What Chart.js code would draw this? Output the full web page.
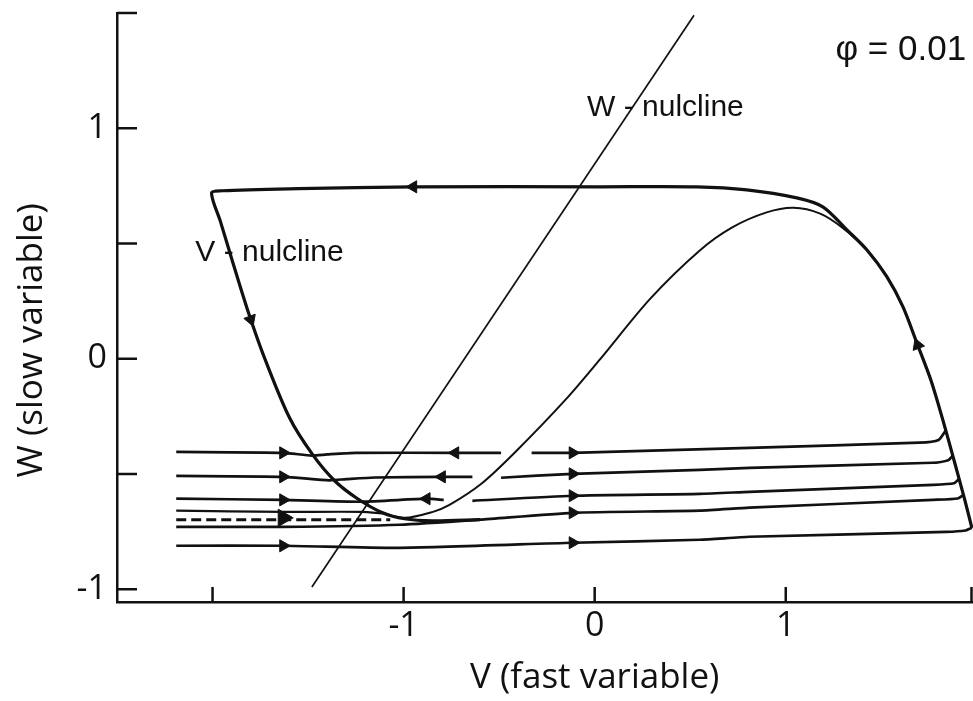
<!doctype html>
<html lang="en">
  <head>
    <meta charset="utf-8">
    <title>Phase plane, phi = 0.01</title>
    <style>
      * {
        margin: 0;
        padding: 0;
      }
      body {
        background: #fff;
      }
      .chartBox {
        width: 973px;
        height: 701px;
        position: relative;
      }
    </style>
  </head>
  <body>
    <div class="chartBox">
      <canvas id="myChart"></canvas>
    </div>
    <script src="https://cdn.jsdelivr.net/npm/chart.js"></script>
    <script>
    // setup
    // W-nullcline (straight line)
    const wNullV = [-1.48, 0.52];
    const wNullW = [-0.99, 1.49];

    // V-nullcline (cubic)
    const vNullV = [-1.895, -1.817, -1.728, -1.597, -1.476, -1.361, -1.241, -1.11, -0.995, -0.85, -0.76, -0.59, -0.41, -0.15, 0.03, 0.29, 0.55, 0.72, 0.90, 1.04, 1.18, 1.298, 1.424, 1.529, 1.613, 1.686, 1.759, 1.822, 1.88, 1.937, 1.974];
    const vNullW = [0.421, 0.213, 0.004, -0.256, -0.416, -0.529, -0.607, -0.668, -0.69, -0.665, -0.634, -0.54, -0.40, -0.175, 0.00, 0.26, 0.47, 0.57, 0.635, 0.655, 0.63, 0.568, 0.473, 0.356, 0.226, 0.069, -0.091, -0.265, -0.438, -0.612, -0.733];

    // limit cycle: right branch up, jump left along the top, down the left branch, out along the bottom
    const cycleV = [1.974, 1.937, 1.88, 1.822, 1.759, 1.686, 1.613, 1.529, 1.424, 1.319, 1.194, 1.058, 0.796, 0.534, 0.03, -0.95, -1.55, -1.95, -2.005, -1.958, -1.895, -1.817, -1.728, -1.597, -1.476, -1.361, -1.241, -1.11, -0.995, -0.85, -0.60];
    const cycleW = [-0.733, -0.612, -0.438, -0.265, -0.091, 0.069, 0.226, 0.356, 0.473, 0.56, 0.659, 0.698, 0.733, 0.746, 0.746, 0.746, 0.738, 0.729, 0.72, 0.594, 0.421, 0.213, 0.004, -0.256, -0.416, -0.529, -0.607, -0.668, -0.694, -0.703, -0.698];

    // trajectories started at the left edge and between the branches
    const row1aV = [-2.19, -1.63, -1.48, -1.40, -1.25, -0.73, -0.49];
    const row1aW = [-0.404, -0.408, -0.42, -0.415, -0.408, -0.408, -0.408];
    const row1bV = [-0.33, -0.115, 0.81, 1.70, 1.80, 1.838];
    const row1bW = [-0.408, -0.408, -0.386, -0.364, -0.352, -0.31];

    const row2aV = [-2.19, -1.63, -1.39, -1.30, -1.15, -0.80, -0.64];
    const row2aW = [-0.508, -0.512, -0.527, -0.522, -0.515, -0.512, -0.512];
    const row2bV = [-0.49, -0.115, 0.55, 0.81, 1.77, 1.85, 1.874];
    const row2bW = [-0.516, -0.499, -0.482, -0.473, -0.451, -0.44, -0.42];

    const row3aV = [-2.19, -1.63, -1.22, -0.88, -0.79];
    const row3aW = [-0.607, -0.612, -0.62, -0.607, -0.612];
    const row3bV = [-0.64, -0.115, 0.55, 0.81, 1.77, 1.88, 1.908];
    const row3bW = [-0.616, -0.594, -0.586, -0.577, -0.547, -0.54, -0.52];

    const row4aV = [-2.19, -1.63, -1.22, -1.10];
    const row4aW = [-0.659, -0.664, -0.664, -0.672];
    const row4dashV = [-2.19, -1.07];
    const row4dashW = [-0.698, -0.698];
    const row4bV = [-2.19, -1.63, -1.02, -0.60, -0.115, 0.55, 0.81, 1.77, 1.90, 1.93];
    const row4bW = [-0.729, -0.729, -0.72, -0.698, -0.668, -0.659, -0.646, -0.612, -0.606, -0.59];

    const row5V = [-2.19, -1.63, -1.02, -0.115, 0.55, 0.81, 1.84, 1.94, 1.974];
    const row5W = [-0.811, -0.811, -0.82, -0.798, -0.785, -0.772, -0.751, -0.745, -0.733];

    // arrowheads showing the direction of flow
    const rightArrowV = [-1.63, -1.63, -1.63, -1.63, -0.115, -0.115, -0.115, -0.115, -0.115];
    const rightArrowW = [-0.408, -0.512, -0.612, -0.811, -0.408, -0.499, -0.594, -0.668, -0.798];
    const bigArrowV = [-1.63];
    const bigArrowW = [-0.69];
    const leftArrowV = [-0.73, -0.80, -0.88, -0.95];
    const leftArrowW = [-0.408, -0.512, -0.607, 0.746];
    const downArrowV = [-1.80];
    const downArrowW = [0.17];
    const upArrowV = [1.69];
    const upArrowW = [0.06];

    // axes
    const xTickLabels = [-1, 0, 1];
    const yTickLabels = [-1, 0, 1];
    const xTickMarks = [-2, -1, 0, 1, 2];
    const yTickMarks = [-1, -0.5, 0, 0.5, 1, 1.5];
    const xTitle = 'V (fast variable)';
    const yTitle = 'W (slow variable)';

    // text notes on the plot
    const noteText = ['W - nulcline', 'V - nulcline', 'φ = 0.01'];
    const noteV = [-0.04, -2.09, 1.26];
    const noteW = [1.09, 0.46, 1.34];

    const ink = '#111';
    const pts = (xs, ys) => xs.map((x, i) => ({ x, y: ys[i] }));

    const curve = (xs, ys, width, extra) => Object.assign({
      data: pts(xs, ys),
      showLine: true,
      borderColor: ink,
      borderWidth: width,
      pointRadius: 0,
      tension: 0.3,
      fill: false
    }, extra || {});

    const arrows = (xs, ys, rot, r) => ({
      data: pts(xs, ys),
      showLine: false,
      pointStyle: 'triangle',
      pointRotation: rot,
      pointRadius: r,
      backgroundColor: ink,
      borderColor: ink,
      borderWidth: 1
    });

    const data = {
      datasets: [
        arrows(rightArrowV, rightArrowW, 90, 7),
        arrows(bigArrowV, bigArrowW, 90, 10),
        arrows(leftArrowV, leftArrowW, -90, 7),
        arrows(downArrowV, downArrowW, 160, 7),
        arrows(upArrowV, upArrowW, -21, 7),
        curve(cycleV, cycleW, 3.2),
        curve(row1aV, row1aW, 2.7, { tension: 0.2 }),
        curve(row1bV, row1bW, 2.7, { tension: 0.2 }),
        curve(row2aV, row2aW, 2.7, { tension: 0.2 }),
        curve(row2bV, row2bW, 2.7, { tension: 0.2 }),
        curve(row3aV, row3aW, 2.7, { tension: 0.2 }),
        curve(row3bV, row3bW, 2.7, { tension: 0.2 }),
        curve(row4aV, row4aW, 2.2, { tension: 0.2 }),
        curve(row4dashV, row4dashW, 3, { borderDash: [10, 5], tension: 0 }),
        curve(row4bV, row4bW, 2.7, { tension: 0.2 }),
        curve(row5V, row5W, 2.7, { tension: 0.2 }),
        curve(vNullV, vNullW, 2),
        curve(wNullV, wNullW, 1.7, { tension: 0 })
      ]
    };

    // inward tick marks, axis titles and the text notes
    const phaseAxes = {
      id: 'phaseAxes',
      afterDraw(chart) {
        const { ctx, chartArea, scales: { x, y } } = chart;
        ctx.save();
        ctx.strokeStyle = ink;
        ctx.lineWidth = 2.5;
        ctx.beginPath();
        yTickMarks.forEach(v => {
          const py = y.getPixelForValue(v);
          ctx.moveTo(chartArea.left, py);
          ctx.lineTo(chartArea.left + 20, py);
        });
        xTickMarks.forEach(v => {
          const px = Math.min(x.getPixelForValue(v), chartArea.right - 1.5);
          ctx.moveTo(px, chartArea.bottom);
          ctx.lineTo(px, chartArea.bottom - 15);
        });
        ctx.stroke();

        ctx.fillStyle = ink;
        ctx.textBaseline = 'middle';
        ctx.textAlign = 'left';
        noteText.forEach((t, i) => {
          ctx.font = i === 2 ? '35px "Liberation Sans"' : '30px "Liberation Sans"';
          ctx.fillText(t, x.getPixelForValue(noteV[i]), y.getPixelForValue(noteW[i]));
        });

        // axis titles, centred on V = 0 and just above W = 0
        ctx.font = '35px "Open Sans"';
        ctx.textAlign = 'center';
        ctx.fillText(xTitle, x.getPixelForValue(0), 678);
        ctx.translate(32, y.getPixelForValue(0.08));
        ctx.rotate(-Math.PI / 2);
        ctx.fillText(yTitle, 0, 0);
        ctx.restore();
      }
    };

    const tickFont = { family: '"Open Sans"', size: 34 };

    // config
    const config = {
      type: 'scatter',
      data,
      options: {
        responsive: true,
        maintainAspectRatio: false,
        animation: false,
        layout: { autoPadding: false, padding: { top: 13, right: 0, left: 0, bottom: 0 } },
        plugins: {
          legend: { display: false },
          tooltip: { enabled: false }
        },
        scales: {
          x: {
            type: 'linear',
            min: -2.5,
            max: 1.98,
            grid: { display: false, drawTicks: false },
            border: { display: true, color: ink, width: 2.5 },
            ticks: { color: ink, padding: 4, font: tickFont },
            afterBuildTicks: s => { s.ticks = xTickLabels.map(v => ({ value: v })); },
            afterFit: s => { s.height = 99; s.paddingLeft = 0; s.paddingRight = 0; }
          },
          y: {
            type: 'linear',
            min: -1.055,
            max: 1.5,
            grid: { display: false, drawTicks: false },
            border: { display: true, color: ink, width: 2.5 },
            ticks: { color: ink, padding: 10, font: tickFont },
            afterBuildTicks: s => { s.ticks = yTickLabels.map(v => ({ value: v })); },
            afterFit: s => { s.width = 117; s.paddingTop = 0; s.paddingBottom = 0; }
          }
        }
      },
      plugins: [phaseAxes]
    };

    // render init block
    const myChart = new Chart(
      document.getElementById('myChart'),
      config
    );
    </script>
  </body>
</html>
